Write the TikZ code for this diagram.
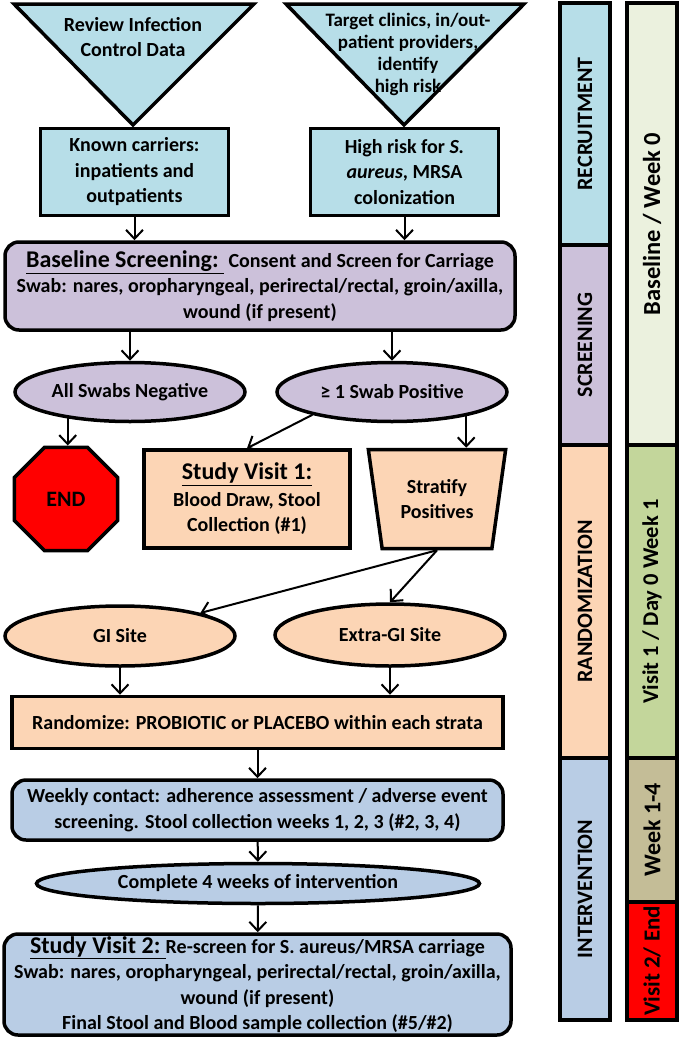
\documentclass[tikz,border=0pt]{standalone}
\usepackage{fontspec}
\setmainfont{Carlito}
\usetikzlibrary{arrows.meta}
\usetikzlibrary{shapes.geometric, shapes.misc}
\definecolor{recruit}{RGB}{183,222,232}
\definecolor{screen}{RGB}{204,193,218}
\definecolor{random}{RGB}{252,213,181}
\definecolor{interv}{RGB}{185,205,229}
\definecolor{weekzero}{RGB}{235,241,222}
\definecolor{visitone}{RGB}{195,214,155}
\definecolor{weeks}{RGB}{196,189,151}
\definecolor{stopred}{RGB}{255,0,0}
\newcommand{\headfont}{\fontsize{24}{26}\selectfont}

\begin{document}
\begin{tikzpicture}[x=1pt, y=-1pt,
    txt/.style={align=center, font=\bfseries\fontsize{20}{25.5}\selectfont, inner sep=0pt},
    box/.style={txt, draw, line width=3.5pt, rectangle},
    rbox/.style={box, rounded corners=14pt},
    oval/.style={txt, draw, line width=3.5pt, ellipse},
    bar/.style={box, rotate=90, minimum height=50, font=\bfseries\fontsize{22}{25}\selectfont},
    arr/.style={line width=2pt, -{Straight Barb[length=9pt, width=17pt]}}]

    \useasboundingbox (0,0) rectangle (680,1050);

    % recruitment
    \draw[line width=3.5pt, fill=recruit, line join=miter] (14,4) -- (254,4) -- (133,125) -- cycle;
    \draw[line width=3.5pt, fill=recruit, line join=miter] (286,4) -- (524,4) -- (404,125) -- cycle;
    \node[txt] (review) at (133,37) {Review Infection\\Control Data};
    \node[txt, font=\bfseries\fontsize{19}{22}\selectfont] (target) at (408,54) {Target clinics, in/out-\\patient providers,\\identify\\high risk};
    \node[box, fill=recruit, minimum width=188, minimum height=87] (known) at (134.5,172) {Known carriers:\\inpatients and\\outpatients};
    \node[box, fill=recruit, minimum width=188, minimum height=87] (high) at (404.5,172) {High risk for \textit{S.}\\\textit{aureus}, MRSA\\colonization};

    % screening
    \node[rbox, fill=screen, minimum width=510, minimum height=88] (base) at (260,286)
        {\underline{\headfont Baseline Screening:\ }\ Consent and Screen for Carriage\\Swab: nares, oropharyngeal, perirectal/rectal, groin/axilla,\\wound (if present)};
    \node[oval, fill=screen, minimum width=230, minimum height=59] (neg) at (130,392) {All Swabs Negative};
    \node[oval, fill=screen, minimum width=230, minimum height=59] (pos) at (392,392) {≥ 1 Swab Positive};

    % randomization
    \node[box, fill=stopred, regular polygon, regular polygon sides=8, minimum size=112, font=\bfseries\fontsize{22}{25}\selectfont] (endsign) at (66,499) {END};
    \node[box, fill=random, minimum width=206, minimum height=98] (visit1) at (247,499)
        {\underline{\headfont Study Visit 1:}\\[1pt]Blood Draw, Stool\\Collection (\#1)};
    \node[box, fill=random, trapezium, trapezium stretches=true, trapezium left angle=103, trapezium right angle=103,
        minimum width=138, minimum height=99] (strat) at (437,499) {Stratify\\Positives};
    \node[oval, fill=random, minimum width=230, minimum height=60] (gi) at (120,636) {GI Site};
    \node[oval, fill=random, minimum width=230, minimum height=62] (extra) at (390,635) {Extra-GI Site};
    \node[box, fill=random, minimum width=491, minimum height=52] (rand) at (257.5,722.5) {Randomize: PROBIOTIC or PLACEBO within each strata};

    % intervention
    \node[rbox, fill=interv, minimum width=491, minimum height=60] (weekly) at (257.5,810)
        {Weekly contact: adherence assessment / adverse event\\screening. Stool collection weeks 1, 2, 3 (\#2, 3, 4)};
    \node[oval, fill=interv, minimum width=443, minimum height=40] (complete) at (258,883.5) {Complete 4 weeks of intervention};
    \node[rbox, fill=interv, minimum width=507, minimum height=101] (visit2) at (257.5,984.5)
        {\underline{\headfont Study Visit 2:\ }Re-screen for S. aureus/MRSA carriage\\Swab: nares, oropharyngeal, perirectal/rectal, groin/axilla,\\wound (if present)\\Final Stool and Blood sample collection (\#5/\#2)};

    % phases
    \node[bar, fill=recruit, minimum width=242] (p1) at (585,124) {RECRUITMENT};
    \node[bar, fill=screen, minimum width=200] (p2) at (585,345) {SCREENING};
    \node[bar, fill=random, minimum width=313] (p3) at (585,601.5) {RANDOMIZATION};
    \node[bar, fill=interv, minimum width=262] (p4) at (585,889) {INTERVENTION};
    \node[bar, fill=weekzero, minimum width=442, font=\bfseries\fontsize{24.5}{28}\selectfont] (t1) at (652,224) {Baseline / Week 0};
    \node[bar, fill=visitone, minimum width=313, font=\bfseries\fontsize{22.5}{25}\selectfont] (t2) at (652,601.5) {Visit 1 / Day 0 Week 1};
    \node[bar, fill=weeks, minimum width=144, font=\bfseries\fontsize{24}{26}\selectfont] (t3) at (652,830) {Week 1-4};
    \node[bar, fill=stopred, minimum width=118, font=\bfseries\fontsize{23}{25}\selectfont] (t4) at (652,961) {Visit 2/ End};

    \draw[arr] (known.south) -- (known.south |- base.north);
    \draw[arr] (high.south) -- (high.south |- base.north);
    \draw[arr] (base.south -| neg) -- (neg.north);
    \draw[arr] (base.south -| pos) -- (pos.north);
    \draw[arr] (neg.203) -- (neg.203 |- endsign.north);
    \draw[arr] (pos.196) -- (visit1.north);
    \draw[arr] (pos.-18) -- (pos.-18 |- strat.north);
    \draw[arr] (strat.south) -- (gi.16);
    \draw[arr] (strat.south) -- (extra.north);
    \draw[arr] (gi.south) -- (gi.south |- rand.north);
    \draw[arr] (extra.south) -- (extra.south |- rand.north);
    \draw[arr] (rand) -- (weekly);
    \draw[arr] (weekly) -- (complete);
    \draw[arr] (complete) -- (visit2);

\end{tikzpicture}
\end{document}
